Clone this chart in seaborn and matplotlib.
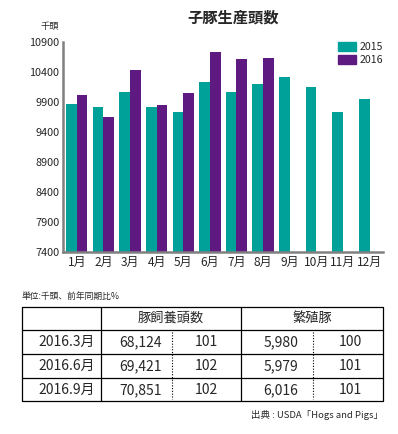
import numpy as np
import pandas as pd
import matplotlib
matplotlib.use("Agg")
import matplotlib.pyplot as plt
import matplotlib.patches as mpatches
import seaborn as sns

# ==========================================================
# DATA
# ==========================================================

months = ["1月", "2月", "3月", "4月", "5月", "6月",
          "7月", "8月", "9月", "10月", "11月", "12月"]
years = ["2015", "2016"]
pigs_2015 = [9870, 9810, 10060, 9810, 9730, 10230,
             10060, 10195, 10310, 10145, 9730, 9945]
pigs_2016 = [10010, 9645, 10430, 9845, 10045, 10730,
             10610, 10630, np.nan, np.nan, np.nan, np.nan]
y_ticks = [7400, 7900, 8400, 8900, 9400, 9900, 10400, 10900]

periods = ["2016.3月", "2016.6月", "2016.9月"]
inventory = [68124, 69421, 70851]
inventory_yoy = [101, 102, 102]
breeding = [5980, 5979, 6016]
breeding_yoy = [100, 101, 101]

teal = "#00A199"
purple = "#5E1A80"

df = pd.DataFrame({
    "month": months * 2,
    "year": [years[0]] * 12 + [years[1]] * 12,
    "value": pigs_2015 + pigs_2016,
})

# ==========================================================
# STYLE
# ==========================================================

sns.set_style("white")
plt.rcParams["font.family"] = ["Noto Sans CJK JP", "DejaVu Sans"]

fig = plt.figure(figsize=(3.98, 4.34), dpi=100)

# ==========================================================
# BAR CHART
# ==========================================================

ax = fig.add_axes([0.1595, 0.4194, 0.8025, 0.4845])

sns.barplot(
    data=df,
    x="month",
    y="value",
    hue="year",
    palette=[teal, purple],
    width=0.8,
    saturation=1,
    linewidth=0,
    legend=False,
    ax=ax
)

ax.set_ylim(7400, 10900)
ax.set_xlim(-0.5, 11.5)
ax.set_yticks(y_ticks)
ax.set_xlabel("")
ax.set_ylabel("")

for side in ["top", "right"]:
    ax.spines[side].set_visible(False)
for side in ["left", "bottom"]:
    ax.spines[side].set_color("#808080")
    ax.spines[side].set_linewidth(1.8)

ax.tick_params(axis="y", direction="in", length=3, width=1,
               color="#808080", labelsize=7.8, pad=3)
ax.tick_params(axis="x", which="major", length=0, labelsize=8.6, pad=3)
ax.set_xticks(np.arange(-0.5, 12, 1), minor=True)
ax.tick_params(axis="x", which="minor", direction="in", length=3,
               width=0.8, color="black")

ax.set_title("子豚生産頭数", fontsize=11, fontweight="bold",
             x=0.53, y=1.05)
fig.text(0.126, 0.94, "千頭", fontsize=6.7, ha="center", va="center")

handles = [mpatches.Patch(color=c, label=l)
           for c, l in zip([teal, purple], years)]
fig.legend(
    handles=handles,
    loc="upper right",
    bbox_to_anchor=(0.975, 0.915),
    frameon=False,
    fontsize=7.6,
    handlelength=1.7,
    handleheight=0.9,
    handletextpad=0.3,
    labelspacing=0.25,
    borderpad=0
)

# ==========================================================
# TABLE
# ==========================================================

tx = fig.add_axes([0, 0, 1, 1])
tx.set_xlim(0, 398)
tx.set_ylim(434, 0)
tx.axis("off")

left, right, top, bottom = 22, 383, 307, 401
row_lines = [330, 354, 378]
col_lines = [101, 241]
dot_lines = [172, 313]

tx.plot([left, right, right, left, left], [top, top, bottom, bottom, top],
        color="black", lw=0.9)
for y in row_lines:
    tx.plot([left, right], [y, y], color="black", lw=0.9)
for x in col_lines:
    tx.plot([x, x], [top, bottom], color="black", lw=0.9)
for x in dot_lines:
    tx.plot([x, x], [332, 399], color="black", lw=0.8, ls=(0, (1, 1.5)))

tx.text(22, 296, "単位:千頭、前年同期比%", fontsize=6.3,
        ha="left", va="center")
tx.text(171, 318, "豚飼養頭数", fontsize=9.5, ha="center", va="center")
tx.text(312, 318, "繁殖豚", fontsize=9.5, ha="center", va="center")

row_y = [342, 366, 390]
for i, y in enumerate(row_y):
    tx.text(95, y, periods[i], fontsize=10, ha="right", va="center")
    tx.text(141, y, f"{inventory[i]:,}", fontsize=10, ha="center", va="center")
    tx.text(206, y, str(inventory_yoy[i]), fontsize=10, ha="center", va="center")
    tx.text(281, y, f"{breeding[i]:,}", fontsize=10, ha="center", va="center")
    tx.text(350, y, str(breeding_yoy[i]), fontsize=10, ha="center", va="center")

tx.text(383, 415, "出典 : USDA「Hogs and Pigs」", fontsize=6.8,
        ha="right", va="center")

fig.savefig("out.png", dpi=100)
